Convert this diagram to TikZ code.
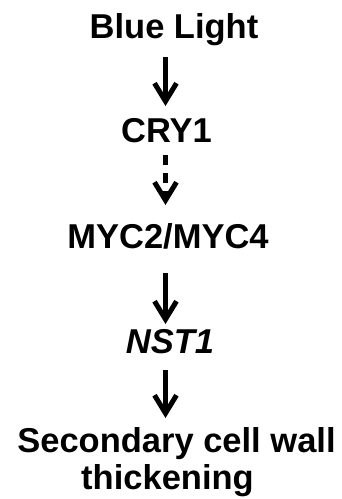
\documentclass[tikz,border=0pt]{standalone}
\usepackage{fontspec}
\setmainfont{Liberation Sans}
\usetikzlibrary{arrows.meta}
\begin{document}
\begin{tikzpicture}[x=1pt,y=1pt,
  lbl/.style={inner sep=0pt, anchor=base, font=\fontsize{34.5}{34.5}\selectfont\bfseries},
  arr/.style={line width=4.8pt, -{Straight Barb[length=18pt,width=22pt,line width=5pt]}},
  darr/.style={arr, dash pattern=on 10pt off 8pt}]
\useasboundingbox (0,0) rectangle (341,-499);
\coordinate (ax) at (165.5,0);
\node[lbl] (bl)  at (174,-38)   {Blue Light};
\node[lbl] (cry) at (166.5,-142) {CRY1};
\node[lbl] (myc) at (168,-248)  {MYC2/MYC4};
\node[lbl] (nst) at (170,-353)  {\itshape NST1};
\node[lbl] (scw) at (176.5,-452) {Secondary cell wall};
\node[lbl] (thk) at (167.5,-489) {thickening};
\coordinate (a1s) at (ax |- 0,-57);
\coordinate (a1e) at (ax |- 0,-106);
\coordinate (a2s) at (ax |- 0,-155);
\coordinate (a2e) at (ax |- 0,-205);
\coordinate (a3s) at (ax |- 0,-273);
\coordinate (a3e) at (ax |- 0,-324);
\coordinate (a4s) at (ax |- 0,-370);
\coordinate (a4e) at (ax |- 0,-418);
\draw[arr]  (a1s) -- (a1e);
\draw[darr] (a2s) -- (a2e);
\draw[arr]  (a3s) -- (a3e);
\draw[arr]  (a4s) -- (a4e);
\end{tikzpicture}
\end{document}
